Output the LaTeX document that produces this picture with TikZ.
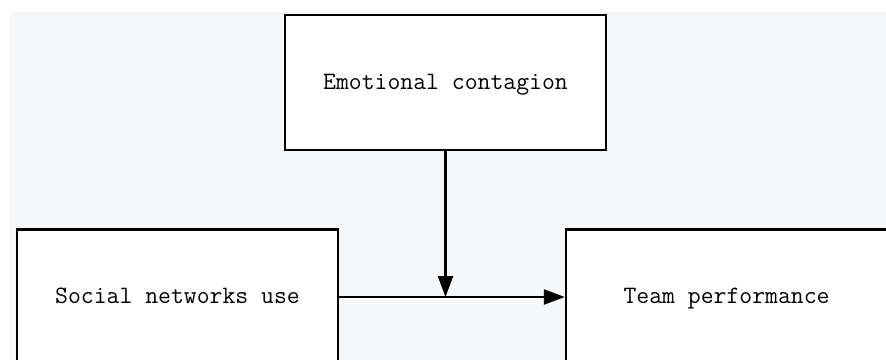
\documentclass[tikz,border=0pt]{standalone}
\usetikzlibrary{arrows.meta}
\definecolor{bggray}{HTML}{F6F7F9}
\begin{document}
\begin{tikzpicture}[x=1pt,y=-1pt,
  varbox/.style={draw,fill=white,line width=2.4pt,minimum width=321pt,minimum height=135pt,
    inner sep=0pt,text height=15.5pt,text depth=2.5pt,font=\fontsize{25}{30}\selectfont\ttfamily},
  flow/.style={line width=2.4pt,-{Triangle[length=21pt,width=15pt]}}]
\useasboundingbox (0,0) rectangle (886,359);
\clip (0,0) rectangle (886,359);
\fill[bggray] (9,12) rectangle (890,365);

\node[varbox] (ec) at (445.5,82.5) {Emotional contagion};
\node[varbox] (snu) at (177.5,297) {Social networks use};
\node[varbox] (tp) at (726.5,297) {Team performance};
\coordinate (meet) at (445.5,297);

\path[draw,flow] (snu) -- (tp);
\path[draw,flow] (ec) -- (meet);
\end{tikzpicture}
\end{document}
